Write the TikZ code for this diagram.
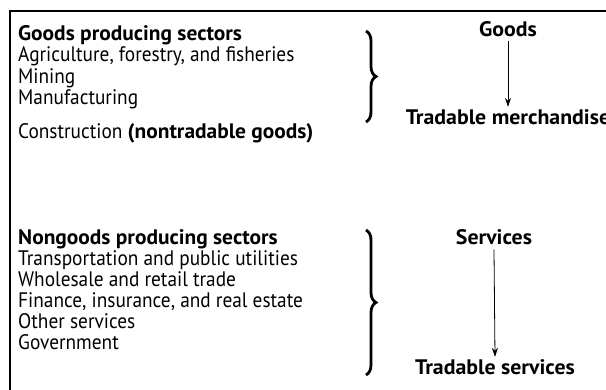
\documentclass[tikz,border=0pt]{standalone}
\usepackage{fontspec}
\setmainfont[FakeStretch=0.92, BoldFeatures={FakeStretch=1.02}]{PT Sans}
\newfontfamily\catfont[FakeStretch=1.04]{PT Sans}
\usetikzlibrary{arrows.meta,decorations.pathreplacing}
\begin{document}
\begin{tikzpicture}[x=1pt,y=-1pt,
  item/.style={anchor=base west, inner sep=0pt, font=\fontsize{21}{24}\selectfont},
  head/.style={item, font=\fontsize{21}{24}\selectfont\bfseries},
  label/.style={anchor=base, inner sep=0pt, font=\catfont\fontsize{21}{25}\selectfont\bfseries},
  group/.style={decorate, decoration={brace, amplitude=10pt}, line width=2.8pt},
  flow/.style={-{Stealth[length=9pt,width=6pt]}, line width=0.8pt}]
\useasboundingbox (0,0) rectangle (606,390);
% frame
\draw[line width=1.1pt] (10,390) -- (10,11) -- (606,11);

% goods producing sectors
\node[head] (gps) at (18,41) {Goods producing sectors};
\node[item] (agr) at (18,62) {Agriculture, forestry, and fisheries};
\node[item] (min) at (18,84) {Mining};
\node[item] (man) at (18,105) {Manufacturing};
\node[item] (con) at (18,139) {Construction \textbf{(nontradable goods)}};

% nongoods producing sectors
\node[head] (ngps) at (18,245) {Nongoods producing sectors};
\node[item] (tra) at (18,266) {Transportation and public utilities};
\node[item] (who) at (18,287) {Wholesale and retail trade};
\node[item] (fin) at (18,308) {Finance, insurance, and real estate};
\node[item] (oth) at (18,329) {Other services};
\node[item] (gov) at (18,350) {Government};

% braces
\coordinate (b1t) at (366,31);
\coordinate (b1b) at (366,122);
\coordinate (b2t) at (366,230);
\coordinate (b2b) at (366,375);
\draw[group] (b1t) -- (b1b);
\draw[group] (b2t) -- (b2b);

% categories
\node[label] (goods) at (508,37) {Goods};
\node[label] (tm) at (508,125) {Tradable merchandise};
\node[label] (serv) at (494,245) {Services};
\node[label] (ts) at (495,375) {Tradable services};
\draw[flow] ([yshift=-4pt]goods.south) -- ([yshift=3pt]tm.north);
\draw[flow] ([yshift=-4pt]serv.south) -- ([yshift=3pt]ts.north);
\end{tikzpicture}
\end{document}
